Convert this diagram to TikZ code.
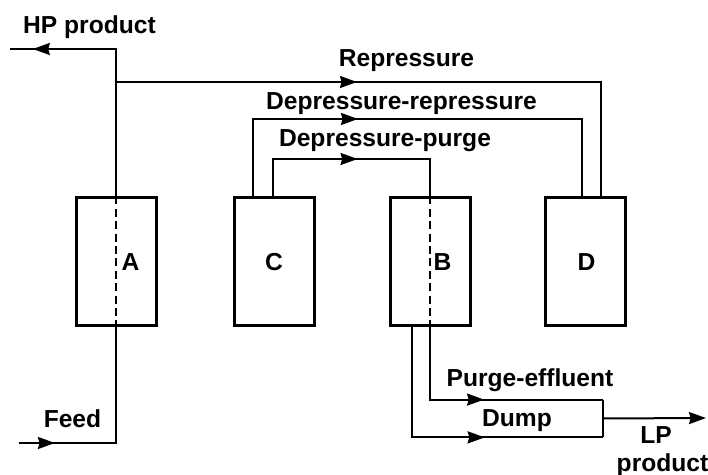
\documentclass[tikz,border=0pt]{standalone}
\usepackage{fontspec}
\setmainfont{Liberation Sans}
\usetikzlibrary{positioning, arrows.meta, calc, decorations.markings}
\tikzset{
  vessel/.style={draw, line width=1.5pt, minimum width=40pt,
                 minimum height=64pt, inner sep=0pt},
  flow/.style={line width=1pt},
  core/.style={line width=0.9pt, dash pattern=on 4pt off 2.2pt},
  tip/.style={-{Stealth[length=8.5pt, width=6pt, inset=0.8pt]}},
  midarr/.style={postaction={decorate}, decoration={markings,
    mark=at position #1 with {\arrow{Stealth[length=8.5pt, width=6pt, inset=0.8pt]}}}},
  lbl/.style={font=\fontsize{12.3}{14}\selectfont\bfseries, inner sep=0pt},
}
\begin{document}
\begin{tikzpicture}[x=0.5pt, y=-0.5pt]
  \useasboundingbox (0,0) rectangle (708,475);

  % the four beds
  \node[vessel] (A) at (116,262) {};
  \node[vessel] (C) at (274,262) {};
  \node[vessel] (B) at (430,262) {};
  \node[vessel] (D) at (585,262) {};
  \node[lbl] (Alab) at ([xshift=7.25pt]A.center) {A};
  \node[lbl] (Clab) at (C.center) {C};
  \node[lbl] (Blab) at ([xshift=6.25pt]B.center) {B};
  \node[lbl] (Dlab) at ([xshift=0.75pt]D.center) {D};
  \draw[core] (A.north) -- (A.south);
  \draw[core] (B.north) -- (B.south);

  % dump vessel
  \node[lbl, minimum width=86pt, minimum height=18.5pt, text depth=0pt]
    (dump) at (517,418.5) {Dump};
  \draw[flow] (dump.north east) -- (dump.south east);

  % pipe taps and free ends
  \coordinate (Ctap1) at ([xshift=-10.5pt]C.north);
  \coordinate (Ctap2) at ([xshift=-0.5pt]C.north);
  \coordinate (Dtap1) at ([xshift=-1.5pt]D.north);
  \coordinate (Dtap2) at ([xshift=8pt]D.north);
  \coordinate (Bout) at ([xshift=-9pt]B.south);
  \coordinate (hp) at (10,49);
  \coordinate (feed) at (19,443);
  \coordinate (lp) at (706,418);

  % ---- flows ----
  \draw[flow, midarr=0.91] (A.north) |- (hp);
  \draw[flow, midarr=0.402] (A.north |- 0,82) -| (Dtap2);
  \draw[flow, midarr=0.377] (Ctap1) -- (Ctap1 |- 0,119) -| (Dtap1);
  \draw[flow, midarr=0.526] (Ctap2) -- (Ctap2 |- 0,159) -| (B.north);
  \draw[flow, midarr=0.514] (B.south) |- (dump.north east);
  \draw[flow, midarr=0.606] (Bout) |- (dump.south east);
  \draw[flow, tip] (dump.east) -- (lp);
  \draw[flow, midarr=0.169] (feed) -| (A.south);

  % labels
  \node[lbl, anchor=base] (hplab) at (89.5,34) {HP product};
  \node[lbl, anchor=base] (replab) at (406.5,67) {Repressure};
  \node[lbl, anchor=base] (dreplab) at (401.5,110) {Depressure-repressure};
  \node[lbl, anchor=base] (dpurlab) at (385,147) {Depressure-purge};
  \node[lbl, anchor=base] (efflab) at (530,387) {Purge-effluent};
  \node[lbl, anchor=base] (feedlab) at (72.5,428) {Feed};
  \node[lbl, anchor=base] (lplab) at (656,444) {LP};
  \node[lbl, anchor=base] (prodlab) at (662.5,472) {product};
\end{tikzpicture}
\end{document}
